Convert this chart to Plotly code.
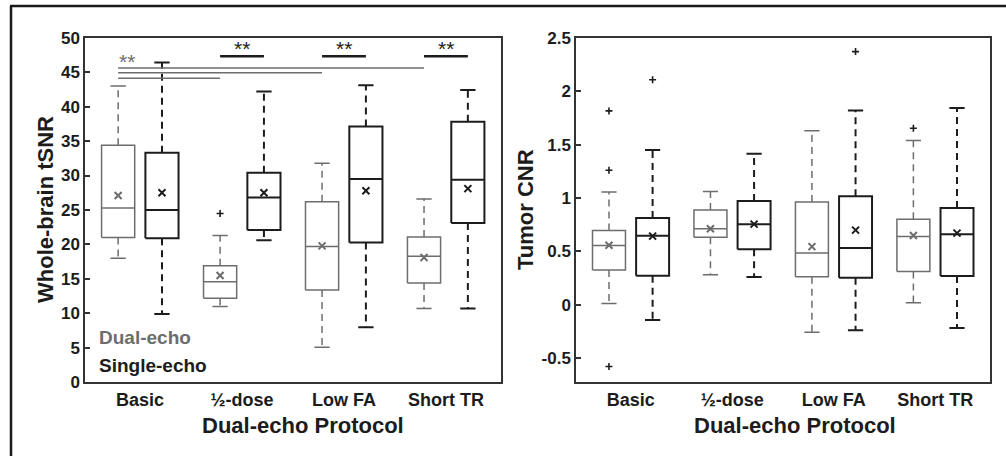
import plotly.graph_objects as go

W, H = 1006, 456
MT, MB = 20, 20  # explicit page margins (px)

categories = ["Basic", "½-dose", "Low FA", "Short TR"]
series_names = ["Dual-echo", "Single-echo"]

# Whole-brain tSNR (left panel)
snr_dual_lo = [18.0, 11.0, 5.1, 10.7]
snr_dual_q1 = [21.0, 12.2, 13.4, 14.4]
snr_dual_med = [25.3, 14.6, 19.7, 18.3]
snr_dual_q3 = [34.4, 16.9, 26.2, 21.1]
snr_dual_hi = [43.0, 21.3, 31.8, 26.6]
snr_dual_mean = [27.1, 15.5, 19.8, 18.1]
snr_dual_out = [[], [24.5], [], []]

snr_single_lo = [9.9, 20.6, 8.0, 10.7]
snr_single_q1 = [20.9, 22.1, 20.3, 23.1]
snr_single_med = [25.0, 26.8, 29.5, 29.4]
snr_single_q3 = [33.3, 30.4, 37.1, 37.8]
snr_single_hi = [46.4, 42.2, 43.1, 42.4]
snr_single_mean = [27.5, 27.5, 27.8, 28.1]
snr_single_out = [[], [], [], []]

# Tumor CNR (right panel)
cnr_dual_lo = [0.013, 0.282, -0.257, 0.019]
cnr_dual_q1 = [0.326, 0.633, 0.263, 0.313]
cnr_dual_med = [0.555, 0.712, 0.486, 0.639]
cnr_dual_q3 = [0.696, 0.887, 0.962, 0.802]
cnr_dual_hi = [1.056, 1.06, 1.63, 1.539]
cnr_dual_mean = [0.558, 0.712, 0.545, 0.649]
cnr_dual_out = [[1.815, 1.26, -0.577], [], [], [1.652]]

cnr_single_lo = [-0.141, 0.26, -0.238, -0.216]
cnr_single_q1 = [0.273, 0.52, 0.254, 0.27]
cnr_single_med = [0.646, 0.755, 0.533, 0.661]
cnr_single_q3 = [0.812, 0.972, 1.016, 0.906]
cnr_single_hi = [1.448, 1.414, 1.818, 1.843]
cnr_single_mean = [0.643, 0.755, 0.699, 0.671]
cnr_single_out = [[2.107], [], [2.37], []]

# significance: gray lines from Basic dual to other dual boxes; black between dual/single
sig_gray_targets = [3, 2, 1]
sig_gray_levels = [45.6, 44.9, 44.1]
sig_gray_star_level = 46.5
sig_black_groups = [1, 2, 3]
sig_black_level = 47.3
sig_black_star_level = 48.5

snr_ticks = [0, 5, 10, 15, 20, 25, 30, 35, 40, 45, 50]
cnr_ticks = [-0.5, 0, 0.5, 1, 1.5, 2, 2.5]

GRAY = "#6d6d6d"
BLACK = "#1c1c1c"
OFF = 0.215
BW = 0.325
CW = 0.15
FONT = "Liberation Sans, Arial, Helvetica, sans-serif"


def py(pix):
    """pixel row (from top of page) -> paper y"""
    return (H - MB - pix) / (H - MT - MB)


def px(pix):
    return pix / W


fig = go.Figure()


def add_boxes(xa, ya, lo, q1, med, q3, hi, mean, out, sign, color, lw):
    bx, by, mx, my, wx, wy, cx, cy = [], [], [], [], [], [], [], []
    ox, oy = [], []
    for i in range(len(categories)):
        c = i + sign * OFF
        l, r = c - BW / 2, c + BW / 2
        bx += [l, r, r, l, l, None]
        by += [q1[i], q1[i], q3[i], q3[i], q1[i], None]
        mx += [l, r, None]
        my += [med[i], med[i], None]
        wx += [c, c, None, c, c, None]
        wy += [q3[i], hi[i], None, q1[i], lo[i], None]
        cx += [c - CW / 2, c + CW / 2, None, c - CW / 2, c + CW / 2, None]
        cy += [hi[i], hi[i], None, lo[i], lo[i], None]
        for v in out[i]:
            ox.append(c)
            oy.append(v)
    common = dict(xaxis=xa, yaxis=ya, showlegend=False, hoverinfo="skip", mode="lines")
    fig.add_trace(go.Scatter(x=wx, y=wy, line=dict(color=color, width=lw, dash="7px,5px"), **common))
    fig.add_trace(go.Scatter(x=cx, y=cy, line=dict(color=color, width=lw), **common))
    fig.add_trace(go.Scatter(x=bx, y=by, line=dict(color=color, width=lw), **common))
    fig.add_trace(go.Scatter(x=mx, y=my, line=dict(color=color, width=lw), **common))
    fig.add_trace(go.Scatter(
        x=[i + sign * OFF for i in range(len(categories))], y=mean, mode="markers",
        marker=dict(symbol="x-thin", size=7, line=dict(color=color, width=2)),
        xaxis=xa, yaxis=ya, showlegend=False, hoverinfo="skip"))
    if ox:
        fig.add_trace(go.Scatter(
            x=ox, y=oy, mode="markers",
            marker=dict(symbol="cross-thin", size=5, line=dict(color=BLACK, width=1.6)),
            xaxis=xa, yaxis=ya, showlegend=False, hoverinfo="skip"))


add_boxes("x", "y", snr_dual_lo, snr_dual_q1, snr_dual_med, snr_dual_q3, snr_dual_hi,
          snr_dual_mean, snr_dual_out, -1, GRAY, 1.5)
add_boxes("x", "y", snr_single_lo, snr_single_q1, snr_single_med, snr_single_q3, snr_single_hi,
          snr_single_mean, snr_single_out, 1, BLACK, 2)
add_boxes("x2", "y2", cnr_dual_lo, cnr_dual_q1, cnr_dual_med, cnr_dual_q3, cnr_dual_hi,
          cnr_dual_mean, cnr_dual_out, -1, GRAY, 1.5)
add_boxes("x2", "y2", cnr_single_lo, cnr_single_q1, cnr_single_med, cnr_single_q3, cnr_single_hi,
          cnr_single_mean, cnr_single_out, 1, BLACK, 2)

# significance lines
gx, gy = [], []
for t, lv in zip(sig_gray_targets, sig_gray_levels):
    gx += [0 - OFF, t - OFF, None]
    gy += [lv, lv, None]
fig.add_trace(go.Scatter(x=gx, y=gy, mode="lines", line=dict(color=GRAY, width=1.5),
                         xaxis="x", yaxis="y", showlegend=False, hoverinfo="skip"))
kx, ky = [], []
for g in sig_black_groups:
    kx += [g - OFF, g + OFF, None]
    ky += [sig_black_level, sig_black_level, None]
fig.add_trace(go.Scatter(x=kx, y=ky, mode="lines", line=dict(color=BLACK, width=2.5),
                         xaxis="x", yaxis="y", showlegend=False, hoverinfo="skip"))

annotations = []
annotations.append(dict(x=0 - OFF + 0.09, y=sig_gray_star_level, xref="x", yref="y", text="**",
                        showarrow=False, yanchor="middle",
                        font=dict(family=FONT, size=21, color=GRAY)))
for g in sig_black_groups:
    annotations.append(dict(x=g, y=sig_black_star_level, xref="x", yref="y", text="**",
                            showarrow=False, yanchor="middle",
                            font=dict(family=FONT, size=21, color=BLACK)))

# legend texts
annotations.append(dict(x=px(97), y=py(337), xref="paper", yref="paper", text=series_names[0],
                        xanchor="left", yanchor="middle", showarrow=False,
                        font=dict(family=FONT, size=19, color=GRAY, weight="bold")))
annotations.append(dict(x=px(97), y=py(365), xref="paper", yref="paper", text=series_names[1],
                        xanchor="left", yanchor="middle", showarrow=False,
                        font=dict(family=FONT, size=19, color=BLACK, weight="bold")))

# axis titles
for xc, txt in [(px(303), "Dual-echo Protocol"), (px(795), "Dual-echo Protocol")]:
    annotations.append(dict(x=xc, y=py(425), xref="paper", yref="paper", text=txt,
                            xanchor="center", yanchor="middle", showarrow=False,
                            font=dict(family=FONT, size=22, color=BLACK, weight="bold")))
for xc, txt in [(px(45), "Whole-brain tSNR"), (px(525), "Tumor CNR")]:
    annotations.append(dict(x=xc, y=py(210), xref="paper", yref="paper", text=txt, textangle=-90,
                            xanchor="center", yanchor="middle", showarrow=False,
                            font=dict(family=FONT, size=22, color=BLACK, weight="bold")))

axis_common = dict(showline=True, linecolor="#333333", linewidth=1.5, mirror=True,
                   showgrid=False, zeroline=False, automargin=False)
xcommon = dict(axis_common, range=[-0.54, 3.54], tickvals=list(range(len(categories))),
               ticktext=categories, ticks="",
               tickfont=dict(family=FONT, size=18, color=BLACK, weight="bold"))
ycommon = dict(axis_common, ticks="inside", ticklen=5, tickcolor="#333333", tickwidth=1.5,
               tickfont=dict(family=FONT, size=17, color=BLACK, weight="bold"))

ydom = [py(382.3), py(37.7)]
fig.update_layout(
    width=W, height=H, autosize=False,
    margin=dict(l=0, r=0, t=MT, b=MB, pad=0, autoexpand=False),
    paper_bgcolor="white", plot_bgcolor="white",
    xaxis=dict(xcommon, domain=[px(85), px(501)], anchor="y"),
    yaxis=dict(ycommon, domain=ydom, range=[0, 50], tickvals=snr_ticks, anchor="x"),
    xaxis2=dict(xcommon, domain=[px(576), px(990)], anchor="y2"),
    yaxis2=dict(ycommon, domain=ydom, range=[-0.725, 2.5], tickvals=cnr_ticks,
                ticktext=[f"{v:g}" for v in cnr_ticks], anchor="x2"),
    annotations=annotations,
    shapes=[
        dict(type="line", xref="paper", yref="paper", x0=px(10), x1=1, y0=py(6), y1=py(6),
             line=dict(color="#1a1a1a", width=2.5)),
        dict(type="line", xref="paper", yref="paper", x0=px(11), x1=px(11), y0=py(H), y1=py(6),
             line=dict(color="#1a1a1a", width=2.5)),
    ],
)

fig.write_html(
    "out.html",
    config={"displayModeBar": False, "responsive": False},
    post_script="document.body.style.margin='0';document.body.style.overflow='hidden';",
)
